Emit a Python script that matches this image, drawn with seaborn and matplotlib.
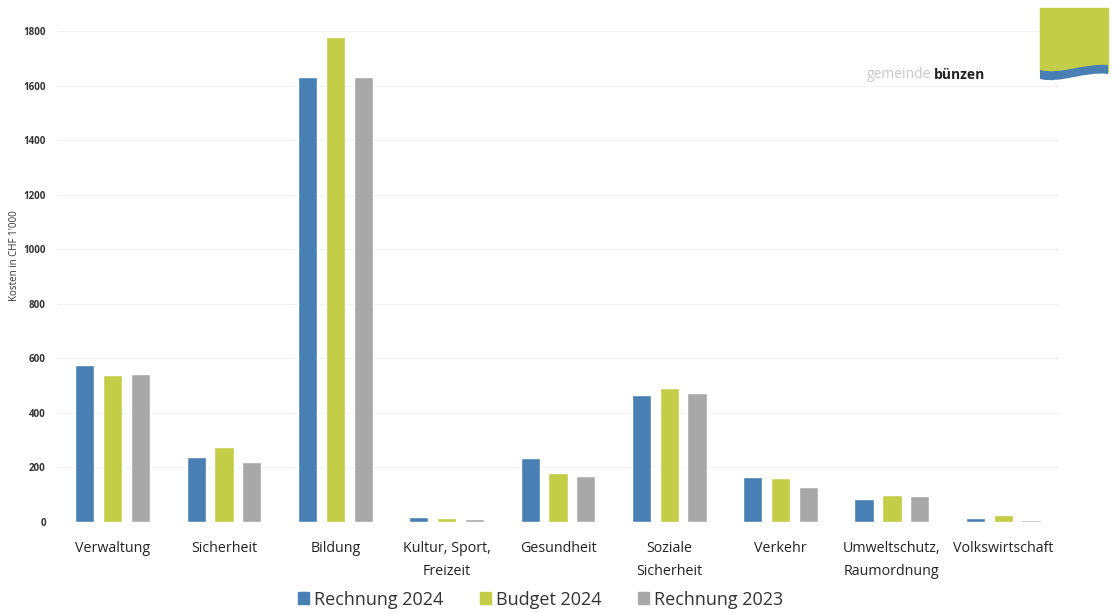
import matplotlib
matplotlib.use("Agg")
import matplotlib.pyplot as plt
import matplotlib.patches as mpatches
from matplotlib.path import Path
import seaborn as sns
import pandas as pd

categories = ["Verwaltung", "Sicherheit", "Bildung", "Kultur, Sport,\nFreizeit", "Gesundheit",
              "Soziale\nSicherheit", "Verkehr", "Umweltschutz,\nRaumordnung", "Volkswirtschaft"]
series_names = ["Rechnung 2024", "Budget 2024", "Rechnung 2023"]
rechnung_2024 = [575, 238, 1633, 18, 234, 465, 166, 84, 16]
budget_2024 = [540, 275, 1778, 14, 180, 490, 163, 98, 27]
rechnung_2023 = [543, 220, 1631, 12, 170, 472, 130, 95, 8]
yticks = [0, 200, 400, 600, 800, 1000, 1200, 1400, 1600, 1800]
colors = ["#4a7fb4", "#c4cd47", "#a8a8a8"]

rows = []
for name, vals in zip(series_names, [rechnung_2024, budget_2024, rechnung_2023]):
    for c, v in zip(categories, vals):
        rows.append({"Kategorie": c, "Serie": name, "Wert": v})
df = pd.DataFrame(rows)

sns.set_theme(style="white")
plt.rcParams["font.family"] = ["Open Sans", "DejaVu Sans"]

fig = plt.figure(figsize=(11.17, 6.13), dpi=100)
ax = fig.add_axes([0.051, 0.1485, 0.897, 0.801])

sns.barplot(data=df, x="Kategorie", y="Wert", hue="Serie", palette=colors,
            order=categories, hue_order=series_names, width=0.75, gap=0.31,
            saturation=1, ax=ax, legend=False, errorbar=None)

ax.set_ylim(0, 1800)
ax.set_yticks(yticks)
ax.set_yticklabels([str(t) for t in yticks], fontsize=7, color="#333333", fontweight="bold")
ax.yaxis.grid(True, color="#f2f2f2", linewidth=0.8)
ax.set_axisbelow(True)
for s in ax.spines.values():
    s.set_visible(False)
ax.tick_params(axis="both", length=0)
ax.tick_params(axis="x", pad=14)
ax.tick_params(axis="y", pad=8)
ax.set_xlabel("")
ax.set_ylabel("")
fig.text(15 / 1117, 1 - 256 / 613, "Kosten in CHF 1'000", fontsize=7, color="#333333",
         rotation=90, ha="center", va="center")
ax.set_xticks(range(len(categories)))
ax.set_xticklabels(categories, fontsize=10.3, color="#222222", linespacing=1.65, va="top")

handles = [mpatches.Patch(color=c, label=n) for c, n in zip(colors, series_names)]
fig.legend(handles=handles, loc="center", bbox_to_anchor=(0.484, 0.022), ncol=3,
           frameon=False, fontsize=13, handlelength=0.6, handleheight=0.6,
           handletextpad=0.3, columnspacing=2.0, labelcolor="#333333")

# Logo
fig.text(931 / 1117, 1 - 75 / 613, "gemeinde", fontsize=10, color="#c8c8c8", ha="right", va="center")
fig.text(934 / 1117, 1 - 75 / 613, "bünzen", fontsize=10, color="#222222", fontweight="bold",
         ha="left", va="center")
wy = lambda p: 1 - p / 613
wx = lambda p: p / 1117
fig.patches.append(mpatches.Rectangle((wx(1040), wy(72)), wx(1108) - wx(1040), wy(8) - wy(72),
                                      transform=fig.transFigure, color="#c4cd47", zorder=1))
verts = [(wx(1040), wy(70)), (wx(1060), wy(75)), (wx(1085), wy(63)), (wx(1108), wy(65)),
         (wx(1108), wy(74)), (wx(1085), wy(71)), (wx(1060), wy(84)), (wx(1040), wy(79)),
         (wx(1040), wy(70))]
codes = [Path.MOVETO, Path.CURVE4, Path.CURVE4, Path.CURVE4, Path.LINETO,
         Path.CURVE4, Path.CURVE4, Path.CURVE4, Path.CLOSEPOLY]
fig.patches.append(mpatches.PathPatch(Path(verts, codes), transform=fig.transFigure,
                                      facecolor="#4a7fb4", edgecolor="none", zorder=2))
# white beneath the wave
wverts = [(wx(1040), wy(78)), (wx(1060), wy(83)), (wx(1085), wy(70)), (wx(1108), wy(73)),
          (wx(1108), wy(80)), (wx(1040), wy(80)), (wx(1040), wy(78))]
wcodes = [Path.MOVETO, Path.CURVE4, Path.CURVE4, Path.CURVE4, Path.LINETO, Path.LINETO, Path.CLOSEPOLY]
fig.patches.append(mpatches.PathPatch(Path(wverts, wcodes), transform=fig.transFigure,
                                      facecolor="white", edgecolor="none", zorder=1.5))

fig.savefig("out.png", dpi=100)
